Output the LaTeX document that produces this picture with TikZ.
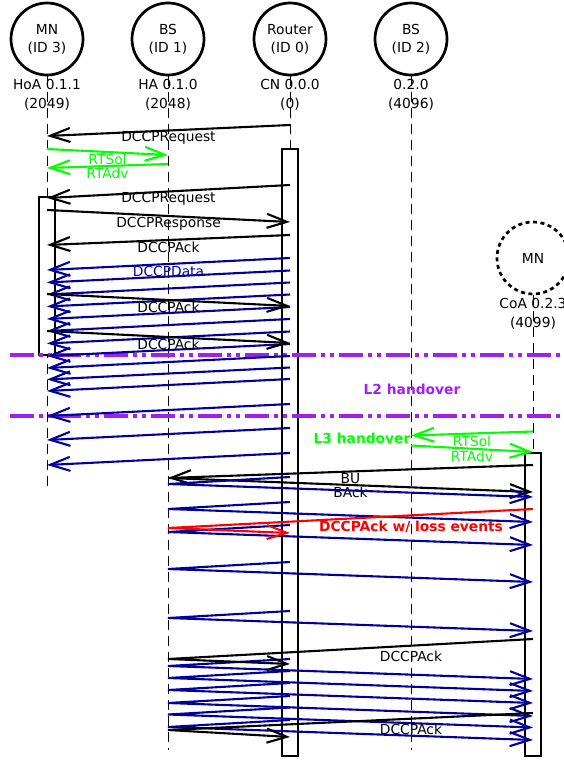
\documentclass[tikz,border=0pt]{standalone}
\usepackage{fontspec}
\setmainfont{DejaVu Sans}
\usetikzlibrary{arrows.meta, positioning}
\definecolor{msgGreen}{RGB}{0,255,0}
\definecolor{msgBlue}{RGB}{0,0,155}
\definecolor{msgRed}{RGB}{255,0,0}
\definecolor{hoPurple}{RGB}{160,32,240}

\begin{document}
\begin{tikzpicture}[x=1pt, y=-1pt, font=\fontsize{13.8}{18}\selectfont,
  ent/.style={draw, circle, line width=2.7pt, minimum size=72pt, inner sep=0pt, align=center},
  addr/.style={align=center, font=\fontsize{13.8}{19}\selectfont},
  life/.style={line width=1pt, dash pattern=on 10pt off 6pt},
  actbox/.style={draw, fill=white, line width=2.2pt},
  barb/.style={-{Straight Barb[length=20pt, width=14pt]}},
  msg/.style={line width=2.1pt, barb},
  data/.style={msg, msgBlue},
  ho/.style={hoPurple, line width=4.5pt, dash pattern=on 24pt off 5pt on 4pt off 5pt on 4pt off 5pt},
  hotext/.style={font=\fontsize{13.8}{18}\selectfont\bfseries},
  lbl/.style={midway, yshift=-7.5pt, inner sep=0pt}]
  \useasboundingbox (0,0) rectangle (564,760);

  \node[ent] (mn) at (47,39) {MN\\(ID 3)};
  \node[ent] (bsa) at (168,39) {BS\\(ID 1)};
  \node[ent] (rt) at (290,39) {Router\\(ID 0)};
  \node[ent] (bsb) at (411,39) {BS\\(ID 2)};
  \node[addr] (mnaddr) at (47,94.5) {HoA 0.1.1\\(2049)};
  \node[addr] (bsaaddr) at (168,94.5) {HA 0.1.0\\(2048)};
  \node[addr] (rtaddr) at (290,94.5) {CN 0.0.0\\(0)};
  \node[addr] (bsbaddr) at (411,94.5) {0.2.0\\(4096)};
  \node[ent, dash pattern=on 4pt off 3.5pt] (nmn) at (533,258) {MN};
  \node[addr] (nmnaddr) at (533,313.5) {CoA 0.2.3\\(4099)};

  \draw[life] (mn.south) -- (mn |- 0,490);
  \draw[life] (bsa.south) -- (bsa |- 0,750);
  \draw[life] (rt.south) -- (rt |- 0,149);
  \draw[life] (bsb.south) -- (bsb |- 0,750);
  \draw[life] (nmn.south) -- (nmn |- 0,453);

  \draw[actbox] (282,149) rectangle (298,756);
  \draw[actbox] (39,197) rectangle (55,355);
  \draw[actbox] (525,453) rectangle (541,756);

  \draw[ho] (10,355) -- (564,355);
  \draw[ho] (10,416) -- (564,416);
  \node[hotext, text=hoPurple] (ltwo) at (412,389) {L2 handover};
  \node[hotext, text=msgGreen] (lthree) at (362,438) {L3 handover};

  \draw[msg] (rt |- 0,125) -- (mn |- 0,136) node[lbl] (m1) {DCCPRequest};
  \draw[msg, msgGreen] (mn |- 0,149) -- (bsa |- 0,155) node[lbl] (m2) {RTSol};
  \draw[msg, msgGreen] (bsa |- 0,164) -- (mn |- 0,168) node[lbl] (m3) {RTAdv};
  \draw[msg] (rt |- 0,185) -- (mn |- 0,198) node[lbl] (m4) {DCCPRequest};
  \draw[msg] (mn |- 0,210) -- (rt |- 0,222) node[lbl] (m5) {DCCPResponse};
  \draw[msg] (rt |- 0,235) -- (mn |- 0,245) node[lbl] (m6) {DCCPAck};

  \draw[data] (rt |- 0,258) -- (mn |- 0,270) node[lbl] (m7) {DCCPData};
  \foreach \y in {270.5,282.5,294.5,307,319,331.5,344,356,367.5,379,404,428,453}
    \draw[data] (rt |- 0,\y) -- (mn |- 0,\y+12);
  \draw[msg] (mn |- 0,294) -- (rt |- 0,306) node[lbl] (m8) {DCCPAck};
  \draw[msg] (mn |- 0,331) -- (rt |- 0,343) node[lbl] (m9) {DCCPAck};

  \draw[msg, msgGreen] (nmn |- 0,431.5) -- (bsb |- 0,435.5) node[lbl] (m10) {RTSol};
  \draw[msg, msgGreen] (bsb |- 0,445.5) -- (nmn |- 0,452) node[lbl] (m11) {RTAdv};

  \draw[msg] (nmn |- 0,465) -- (bsa |- 0,478) node[lbl] (m12) {BU};
  \draw[msg] (bsa |- 0,478) -- (nmn |- 0,492) node[lbl] (m13) {BAck};

  \foreach \y in {477,502,525,562,611,659,671,683,696,707.5,720}
    \draw[data] (rt |- 0,\y) -- (bsa |- 0,\y+7) -- (nmn |- 0,\y+20);

  \draw[msg, msgRed] (nmn |- 0,509) -- (bsa |- 0,528) -- (rt |- 0,533);
  \node[hotext, text=msgRed] (m14) at (411,527) {DCCPAck w/ loss events};
  \draw[msg] (nmn |- 0,639) -- (bsa |- 0,659) -- (rt |- 0,664);
  \node (m15) at (411,656) {DCCPAck};
  \draw[msg] (nmn |- 0,713) -- (bsa |- 0,730) -- (rt |- 0,737);
  \node (m16) at (411,729) {DCCPAck};
\end{tikzpicture}
\end{document}
